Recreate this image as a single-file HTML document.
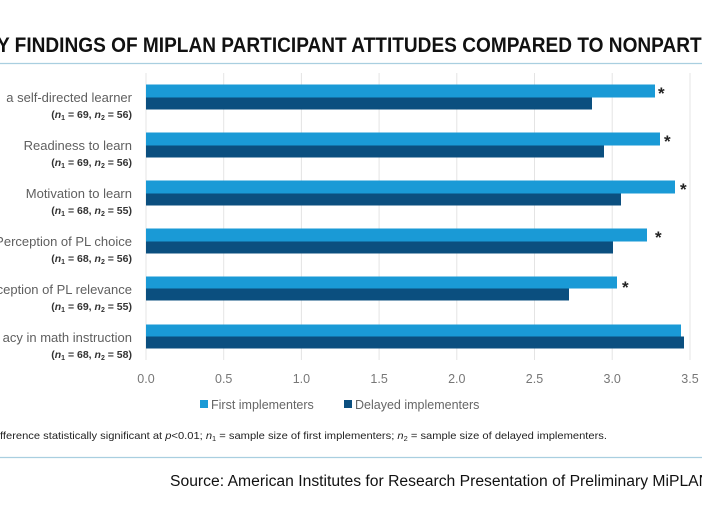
<!DOCTYPE html>
<html><head><meta charset="utf-8"><style>
body{margin:0;background:#fff;width:702px;height:526px;overflow:hidden;position:relative;font-family:"Liberation Sans",sans-serif}
</style></head><body>
<svg width="702" height="526" xmlns="http://www.w3.org/2000/svg" style="position:absolute;left:0;top:0">
<text x="-3" y="52" font-family="Liberation Sans Narrow, Liberation Sans, sans-serif" font-weight="bold" font-size="21" fill="#111" textLength="710" lengthAdjust="spacingAndGlyphs">Y FINDINGS OF MIPLAN PARTICIPANT ATTITUDES COMPARED TO NONPARTI</text>
<line x1="0" y1="63.5" x2="702" y2="63.5" stroke="#a9cfe0" stroke-width="1.2"/>
<line x1="0" y1="457.5" x2="702" y2="457.5" stroke="#a9cfe0" stroke-width="1.2"/>
<g stroke="#e4e4e4" stroke-width="1">
<line x1="146" y1="73" x2="146" y2="360"/>
<line x1="223.7" y1="73" x2="223.7" y2="360"/>
<line x1="301.4" y1="73" x2="301.4" y2="360"/>
<line x1="379.1" y1="73" x2="379.1" y2="360"/>
<line x1="456.8" y1="73" x2="456.8" y2="360"/>
<line x1="534.5" y1="73" x2="534.5" y2="360"/>
<line x1="612.2" y1="73" x2="612.2" y2="360"/>
<line x1="690" y1="73" x2="690" y2="360"/>
</g>
<g>
<rect x="146" y="84.5" width="509" height="13" fill="#1a9ad6"/><rect x="146" y="97.5" width="446" height="12" fill="#0b4f7f"/>
<rect x="146" y="132.5" width="514" height="13" fill="#1a9ad6"/><rect x="146" y="145.5" width="458" height="12" fill="#0b4f7f"/>
<rect x="146" y="180.5" width="529" height="13" fill="#1a9ad6"/><rect x="146" y="193.5" width="475" height="12" fill="#0b4f7f"/>
<rect x="146" y="228.5" width="501" height="13" fill="#1a9ad6"/><rect x="146" y="241.5" width="467" height="12" fill="#0b4f7f"/>
<rect x="146" y="276.5" width="471" height="12" fill="#1a9ad6"/><rect x="146" y="288.5" width="423" height="12" fill="#0b4f7f"/>
<rect x="146" y="324.5" width="535" height="12" fill="#1a9ad6"/><rect x="146" y="336.5" width="538" height="12" fill="#0b4f7f"/>
</g>
<g font-size="17" font-weight="bold" fill="#222">
<text x="658" y="99">*</text><text x="664" y="147">*</text><text x="680" y="195">*</text><text x="655" y="243">*</text><text x="622" y="293">*</text>
</g>
<g font-size="13" fill="#5f5f5f" text-anchor="end" font-family="Liberation Sans Narrow, Liberation Sans, sans-serif">
<text x="132" y="102">a self-directed learner</text>
<text x="132" y="150">Readiness to learn</text>
<text x="132" y="198">Motivation to learn</text>
<text x="132" y="246">Perception of PL choice</text>
<text x="132" y="294">ception of PL relevance</text>
<text x="132" y="342">acy in math instruction</text>
</g>
<g font-size="10.5" fill="#333" text-anchor="end" font-weight="bold" font-family="Liberation Sans Narrow, Liberation Sans, sans-serif">
<text x="132" y="118">(<tspan font-style="italic">n</tspan><tspan font-size="7" dy="2">1</tspan><tspan dy="-2"> = 69, </tspan><tspan font-style="italic">n</tspan><tspan font-size="7" dy="2">2</tspan><tspan dy="-2"> = 56)</tspan></text>
<text x="132" y="166">(<tspan font-style="italic">n</tspan><tspan font-size="7" dy="2">1</tspan><tspan dy="-2"> = 69, </tspan><tspan font-style="italic">n</tspan><tspan font-size="7" dy="2">2</tspan><tspan dy="-2"> = 56)</tspan></text>
<text x="132" y="214">(<tspan font-style="italic">n</tspan><tspan font-size="7" dy="2">1</tspan><tspan dy="-2"> = 68, </tspan><tspan font-style="italic">n</tspan><tspan font-size="7" dy="2">2</tspan><tspan dy="-2"> = 55)</tspan></text>
<text x="132" y="262">(<tspan font-style="italic">n</tspan><tspan font-size="7" dy="2">1</tspan><tspan dy="-2"> = 68, </tspan><tspan font-style="italic">n</tspan><tspan font-size="7" dy="2">2</tspan><tspan dy="-2"> = 56)</tspan></text>
<text x="132" y="310">(<tspan font-style="italic">n</tspan><tspan font-size="7" dy="2">1</tspan><tspan dy="-2"> = 69, </tspan><tspan font-style="italic">n</tspan><tspan font-size="7" dy="2">2</tspan><tspan dy="-2"> = 55)</tspan></text>
<text x="132" y="358">(<tspan font-style="italic">n</tspan><tspan font-size="7" dy="2">1</tspan><tspan dy="-2"> = 68, </tspan><tspan font-style="italic">n</tspan><tspan font-size="7" dy="2">2</tspan><tspan dy="-2"> = 58)</tspan></text>
</g>
<g font-size="12.5" fill="#777" text-anchor="middle">
<text x="146" y="383">0.0</text><text x="223.7" y="383">0.5</text><text x="301.4" y="383">1.0</text><text x="379.1" y="383">1.5</text><text x="456.8" y="383">2.0</text><text x="534.5" y="383">2.5</text><text x="612.2" y="383">3.0</text><text x="690" y="383">3.5</text>
</g>
<rect x="200" y="400" width="8" height="8" fill="#1a9ad6"/>
<text x="211" y="409" font-size="12.5" fill="#666" font-family="Liberation Sans Narrow, Liberation Sans, sans-serif">First implementers</text>
<rect x="344" y="400" width="8" height="8" fill="#0b4f7f"/>
<text x="355" y="409" font-size="12.5" fill="#666" font-family="Liberation Sans Narrow, Liberation Sans, sans-serif">Delayed implementers</text>
<text x="0" y="439" font-size="10.5" fill="#222" font-family="Liberation Sans Narrow, Liberation Sans, sans-serif" textLength="607" lengthAdjust="spacingAndGlyphs">fference statistically significant at <tspan font-style="italic">p</tspan>&lt;0.01; <tspan font-style="italic">n</tspan><tspan font-size="7" dy="2">1</tspan><tspan dy="-2"> = sample size of first implementers; </tspan><tspan font-style="italic">n</tspan><tspan font-size="7" dy="2">2</tspan><tspan dy="-2"> = sample size of delayed implementers.</tspan></text>
<text x="170" y="486" font-size="15.5" fill="#111" font-family="Liberation Sans Narrow, Liberation Sans, sans-serif" textLength="540" lengthAdjust="spacingAndGlyphs">Source: American Institutes for Research Presentation of Preliminary MiPLAN</text>
</svg>
</body></html>
